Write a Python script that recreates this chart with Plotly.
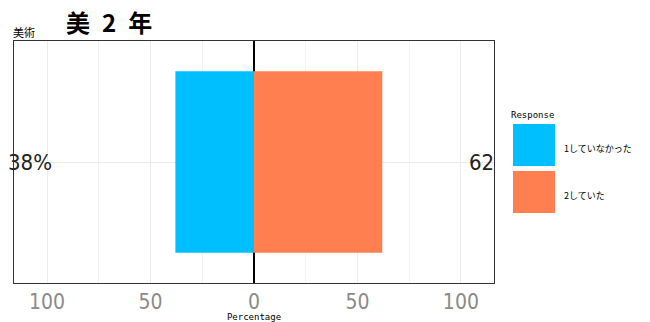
import plotly.graph_objects as go

categories = ["美術"]
responses = ["1していなかった", "2していた"]
no_vals = [38]
yes_vals = [62]
colors = ["#00BFFF", "#FF7F50"]
tick_vals = [-100, -50, 0, 50, 100]
tick_text = ["100", "50", "0", "50", "100"]
minor_vals = [-75, -25, 25, 75]

# page body has an 8px default margin; size the figure to fit the 650x322 window
OFF = 8
W, H = 650 - OFF, 322 - OFF
L, R, T, B = 14 - OFF, 156, 41 - OFF, 39
pw, ph = W - L - R, H - T - B


def px(x):
    return (x - OFF - L) / pw


def py(y):
    return (H - B - (y - OFF)) / ph


fig = go.Figure()
fig.add_trace(go.Bar(y=categories, x=[-v for v in no_vals], orientation="h",
                     marker=dict(color=colors[0], line=dict(width=0)), width=0.75,
                     name=responses[0], showlegend=False))
fig.add_trace(go.Bar(y=categories, x=yes_vals, orientation="h",
                     marker=dict(color=colors[1], line=dict(width=0)), width=0.75,
                     name=responses[1], showlegend=False))

narrow = "Liberation Sans Narrow, DejaVu Sans Condensed, sans-serif"
tick_font = dict(family=narrow, size=21, color="#8a8a8a")

anns = [
    dict(text="美\u20022\u2002年", x=px(64), y=py(22), xref="paper", yref="paper", xanchor="left", yanchor="middle",
         showarrow=False, font=dict(family="Noto Sans CJK JP", size=24, color="black", weight="bold")),
    dict(text="美術", x=px(11), y=py(32), xref="paper", yref="paper", xanchor="left", yanchor="middle",
         showarrow=False, font=dict(family="Noto Sans CJK JP", size=11, color="black")),
    dict(text=f"{no_vals[0]}%", x=0, y=categories[0], xref="paper", yref="y", xanchor="left",
         showarrow=False, xshift=-8, font=dict(family=narrow, size=22, color="#222222")),
    dict(text=f"{yes_vals[0]}", x=1, y=categories[0], xref="paper", yref="y", xanchor="right",
         showarrow=False, xshift=2, font=dict(family=narrow, size=22, color="#222222")),
    dict(text="Response", x=px(509), y=py(115), xref="paper", yref="paper", xanchor="left",
         yanchor="middle", showarrow=False,
         font=dict(family="DejaVu Sans Mono, monospace", size=9, color="black")),
]
shapes = []
for i, (lab, col) in enumerate(zip(responses, colors)):
    top = 124 + i * 47
    shapes.append(dict(type="rect", xref="paper", yref="paper", x0=px(513), x1=px(555),
                       y0=py(top + 42), y1=py(top), fillcolor=col, line=dict(width=0)))
    anns.append(dict(text=lab, x=px(562), y=py(top + 24), xref="paper", yref="paper", xanchor="left",
                     yanchor="middle", showarrow=False,
                     font=dict(family="Noto Sans CJK JP", size=9, color="black")))

fig.update_layout(
    width=W, height=H,
    margin=dict(l=L, r=R, t=T, b=B, autoexpand=False),
    paper_bgcolor="white", plot_bgcolor="white",
    barmode="relative",
    xaxis=dict(range=[-116, 116], tickvals=tick_vals, ticktext=tick_text, automargin=False,
               tickfont=tick_font, showgrid=True, gridcolor="#ebebeb", gridwidth=1,
               minor=dict(tickvals=minor_vals, showgrid=True, gridcolor="#f3f3f3", gridwidth=1),
               zeroline=True, zerolinecolor="black", zerolinewidth=2,
               showline=True, linecolor="#333333", linewidth=1, mirror=True,
               ticks="", ticklen=0,
               title=dict(text="Percentage", font=dict(family="DejaVu Sans Mono, monospace", size=9, color="black"), standoff=2)),
    yaxis=dict(range=[-0.5, 0.5], showticklabels=False, showgrid=True, gridcolor="#ebebeb", automargin=False,
               showline=True, linecolor="#333333", linewidth=1, mirror=True, ticks=""),
    annotations=anns, shapes=shapes,
)

fig.write_html("out.html")
